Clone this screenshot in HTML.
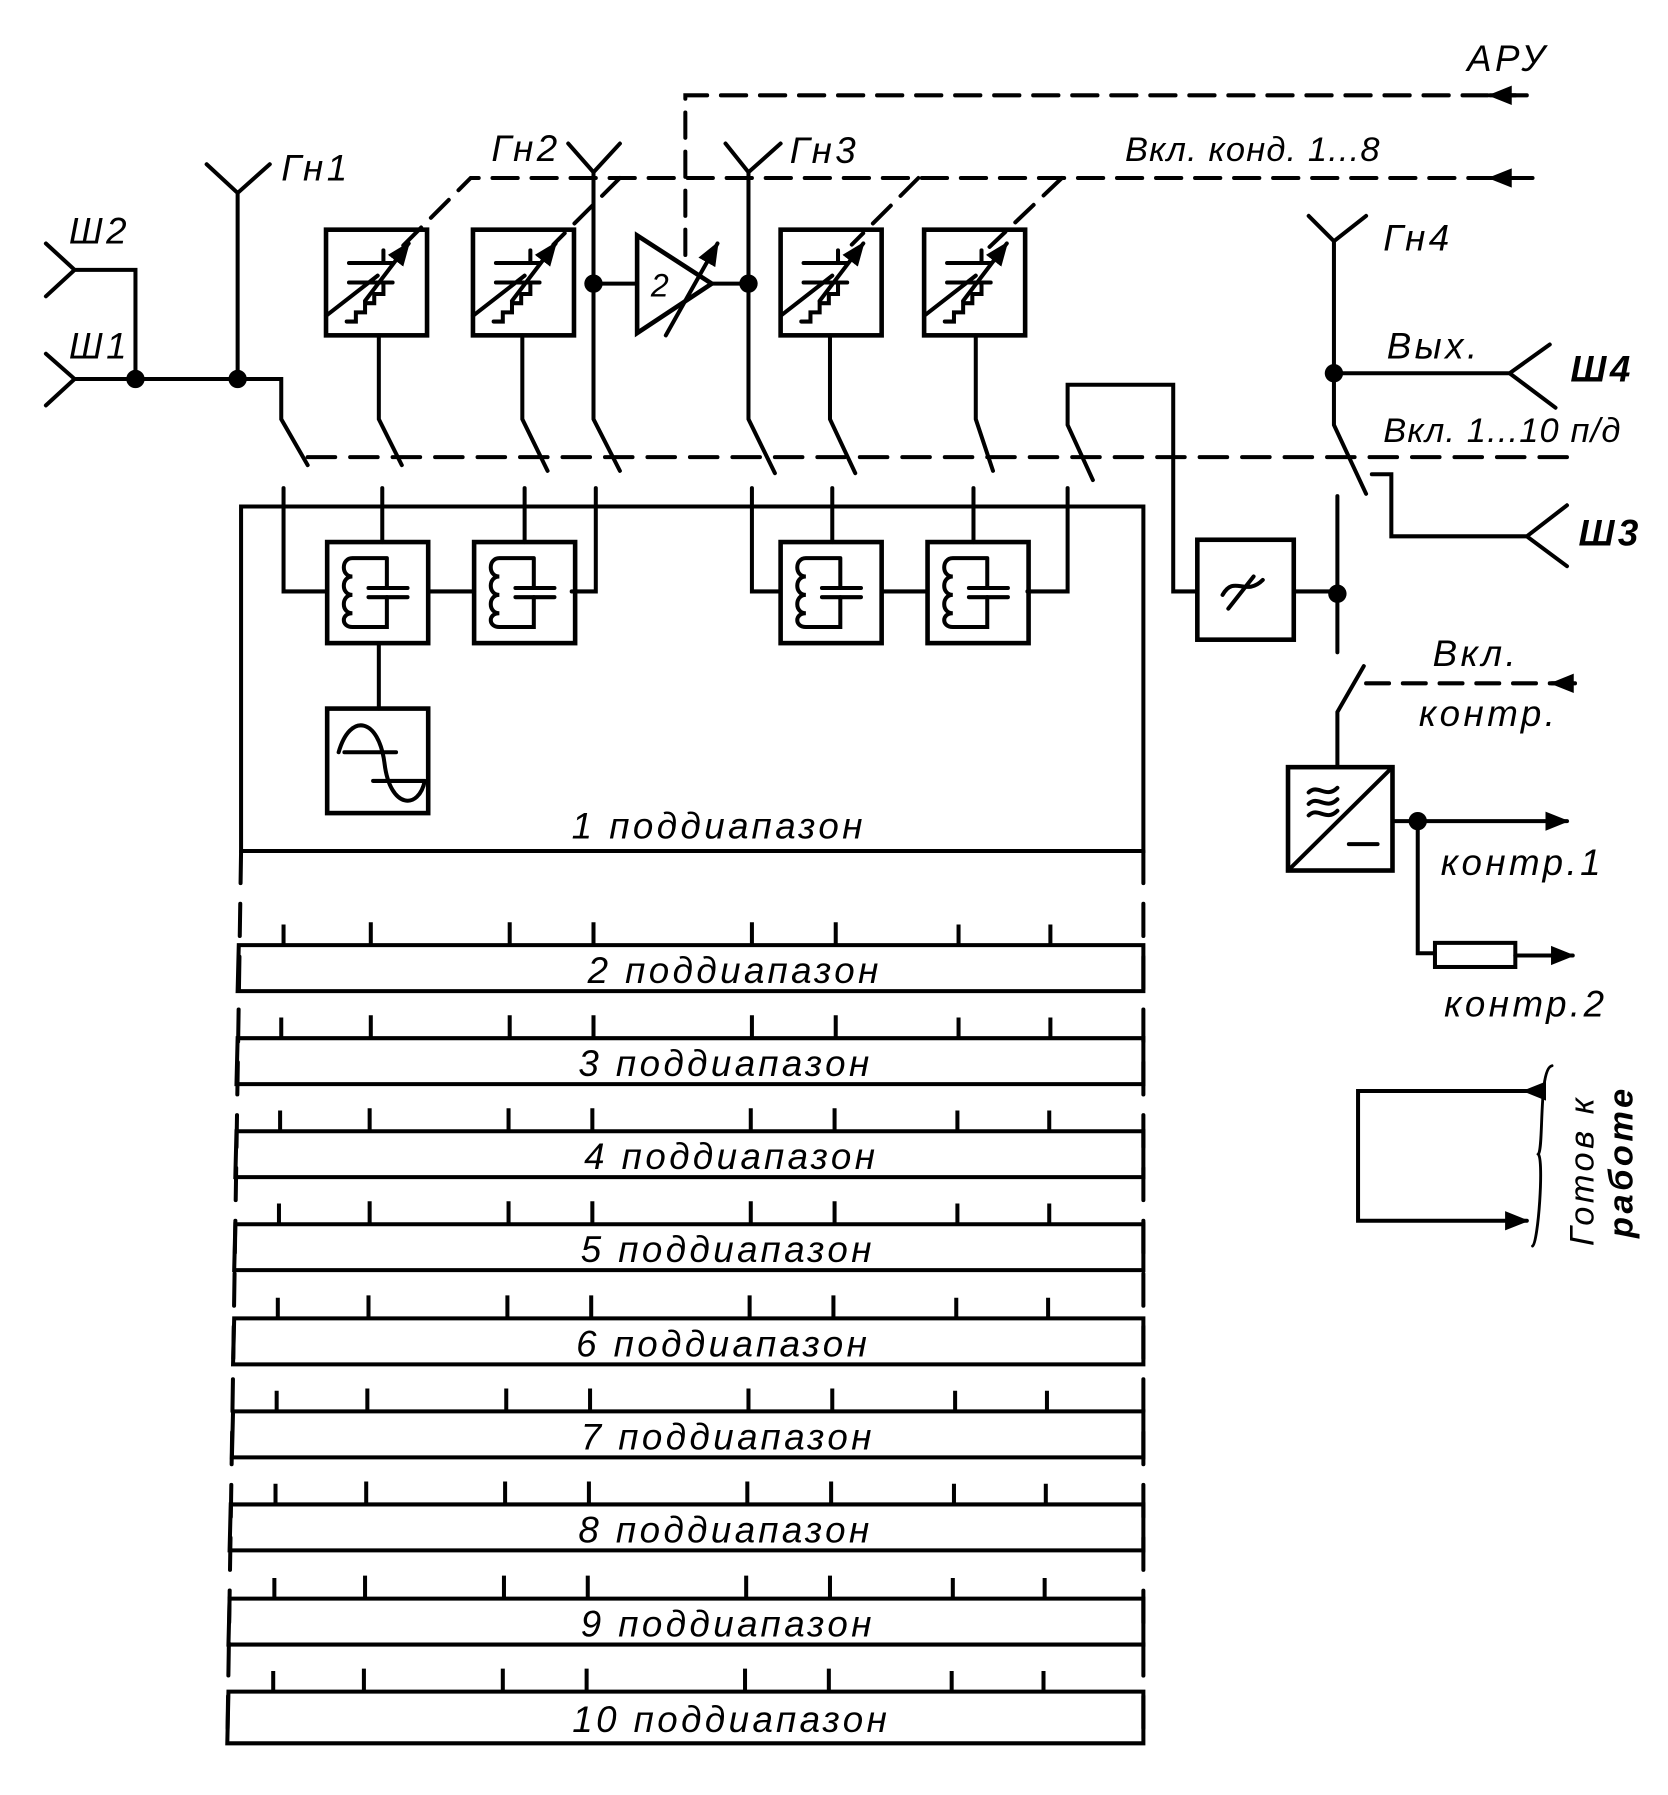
<!DOCTYPE html>
<html><head><meta charset="utf-8"><style>
html,body{margin:0;padding:0;background:#fff;}
svg{display:block;}
text{font-family:"Liberation Sans",sans-serif;font-style:italic;fill:#000;}
</style></head><body>
<svg width="1668" height="1795" viewBox="0 0 1453 1563" preserveAspectRatio="none" xmlns="http://www.w3.org/2000/svg">
<defs>
<marker id="ar" viewBox="0 0 10 10" refX="9" refY="5" markerWidth="6" markerHeight="6" orient="auto-start-reverse"><path d="M0,1 L10,5 L0,9 Z" fill="#000"/></marker>
<g id="vc" fill="none" stroke="#000" stroke-width="3.5">
<rect x="0" y="0" width="88" height="92" stroke-width="4"/>
<path d="M20,29 H58 M20,46 H58 M50,18 V29 M50,46 V56 H42 V64 H34 V72 H26 V80 H18"/>
<path d="M0,75 L45,40"/>
<path d="M34,62 L72,12" marker-end="url(#ar)"/>
</g>
<g id="lc" fill="none" stroke="#000" stroke-width="3.5">
<rect x="0" y="0" width="88" height="88" stroke-width="4"/>
<path d="M52,14 H22 C12,14 12,30 22,30 C12,30 12,46 22,46 C12,46 12,62 22,62 C12,62 12,74 22,74 H52 V48 M52,40 V14"/>
<path d="M36,40 H70 M36,48 H70"/>
</g>
</defs>
<g fill="none" stroke="#000" stroke-width="3.5" stroke-linecap="round">
<!-- АРУ dashed -->
<path d="M1330,83 H597 V230" stroke-dasharray="22,12"/>
<path d="M1320,83 H1298" marker-end="url(#ar)"/>
<!-- Вкл конд -->
<path d="M1335,155 H410 L350,215" stroke-dasharray="22,12"/>
<path d="M1320,155 H1298" marker-end="url(#ar)"/>
<path d="M540,155 L482,213" stroke-dasharray="22,12"/>
<path d="M800,155 L742,213" stroke-dasharray="22,12"/>
<path d="M925,155 L862,215" stroke-dasharray="22,12"/>
<!-- Ш2, Ш1 -->
<path d="M40,212 L65,235 L40,258 M65,235 H118 V330"/>
<path d="M40,308 L65,330 L40,353 M65,330 H245 V365 L268,405"/>
<!-- Гн1 -->
<path d="M207,330 V168 M180,143 L207,168 L235,143"/>
<!-- boxes top -->
<use href="#vc" x="284" y="200"/>
<use href="#vc" x="412" y="200"/>
<use href="#vc" x="680" y="200"/>
<use href="#vc" x="805" y="200"/>
<path d="M330,292 V365 L350,405 M455,292 V365 L477,410"/>
<path d="M517,150 V365 L540,410 M495,125 L517,150 L540,125 M517,247 H555"/>
<path d="M555,205 L620,247 L555,290 Z" stroke-width="4"/>
<path d="M580,292 L625,212" marker-end="url(#ar)"/>
<path d="M620,247 H652 M652,150 V365 L675,412 M632,125 L652,150 L680,125"/>
<path d="M723,292 V365 L745,412 M850,292 V365 L865,410"/>
<path d="M930,370 V335 H1022 V515 H1043 M930,370 L952,418"/>
<!-- Вкл 1..10 dashed -->
<path d="M268,398 H1370" stroke-dasharray="24,13"/>
<!-- Гн4 -->
<path d="M1162,210 V370 L1190,430 M1140,188 L1162,210 L1190,188 M1162,325 H1315 M1350,300 L1315,325 L1355,355"/>
<path d="M1195,413 H1212 V467 H1330 M1365,440 L1330,467 L1365,493"/>
<!-- subrange 1 -->
<path d="M210,441 H996 V741 H210 Z"/>
<path d="M247,425 V515 H285 M333,425 V472 M457,425 V472 M519,425 V515 H498 M655,425 V515 H678 M725,425 V472 M848,425 V472 M930,425 V515 H895"/>
<use href="#lc" x="285" y="472"/>
<use href="#lc" x="413" y="472"/>
<use href="#lc" x="680" y="472"/>
<use href="#lc" x="808" y="472"/>
<path d="M373,515 H413 M768,515 H808 M330,560 V617"/>
<rect x="285" y="617" width="88" height="91" stroke-width="4"/>
<path d="M295,655 C305,620 330,625 335,665 C340,705 365,705 370,680 M300,655 H345 M325,680 H370"/>
<!-- LPF -->
<rect x="1043" y="470" width="84" height="87" stroke-width="4"/>
<path d="M1065,518 C1075,500 1085,520 1100,505 M1070,530 L1092,502"/>
<path d="M1127,515 H1165 M1165,432 V568"/>
<!-- контр -->
<path d="M1165,668 V620 L1188,580"/>
<path d="M1190,595 H1380" stroke-dasharray="20,12"/>
<path d="M1372,595 H1352" marker-end="url(#ar)"/>
<rect x="1122" y="668" width="91" height="90" stroke-width="4"/>
<path d="M1122,758 L1213,668 M1140,690 C1148,682 1155,696 1165,686 M1140,700 C1148,692 1155,706 1165,696 M1140,710 C1148,702 1155,716 1165,706 M1175,735 H1200"/>
<path d="M1213,715 H1365" marker-end="url(#ar)"/>
<path d="M1235,715 V830 H1250 M1320,832 H1370" marker-end="url(#ar)"/>
<rect x="1250" y="821" width="70" height="21"/>
<!-- готов -->
<path d="M1335,950 H1183 V1063 H1330" marker-end="url(#ar)"/>
<path d="M1338,950 h-10" marker-end="url(#ar)"/>
<path d="M1352,928 C1340,930 1345,1000 1340,1005 C1345,1010 1340,1082 1335,1085" stroke-width="2.5"/>
<!-- sub 1 side dashed -->
<path d="M210,741 L198,1520 M996,741 V1520" stroke-dasharray="28,18"/>
</g>
<g fill="#000">
<circle cx="118" cy="330" r="8"/><circle cx="207" cy="330" r="8"/>
<circle cx="517" cy="247" r="8"/><circle cx="652" cy="247" r="8"/>
<circle cx="1162" cy="325" r="8"/><circle cx="1165" cy="517" r="8"/>
<circle cx="1235" cy="715" r="8"/>
</g>
<g fill="none" stroke="#000" stroke-width="3.5">
<path d="M208,823 H996 V863 H207 Z M247,823 V805 M323,823 V803 M444,823 V803 M517,823 V803 M655,823 V803 M728,823 V803 M835,823 V805 M915,823 V805"/>
<path d="M207,904 H996 V944 H206 Z M245,904 V886 M323,904 V884 M444,904 V884 M517,904 V884 M655,904 V884 M728,904 V884 M835,904 V886 M915,904 V886"/>
<path d="M206,985 H996 V1025 H205 Z M244,985 V967 M322,985 V965 M443,985 V965 M516,985 V965 M654,985 V965 M727,985 V965 M834,985 V967 M914,985 V967"/>
<path d="M205,1066 H996 V1106 H204 Z M243,1066 V1048 M322,1066 V1046 M443,1066 V1046 M516,1066 V1046 M654,1066 V1046 M727,1066 V1046 M834,1066 V1048 M914,1066 V1048"/>
<path d="M204,1148 H996 V1188 H203 Z M242,1148 V1130 M321,1148 V1128 M442,1148 V1128 M515,1148 V1128 M653,1148 V1128 M726,1148 V1128 M833,1148 V1130 M913,1148 V1130"/>
<path d="M203,1229 H996 V1269 H202 Z M241,1229 V1211 M320,1229 V1209 M441,1229 V1209 M514,1229 V1209 M652,1229 V1209 M725,1229 V1209 M832,1229 V1211 M912,1229 V1211"/>
<path d="M201,1310 H996 V1350 H200 Z M240,1310 V1292 M319,1310 V1290 M440,1310 V1290 M513,1310 V1290 M651,1310 V1290 M724,1310 V1290 M831,1310 V1292 M911,1310 V1292"/>
<path d="M200,1392 H996 V1432 H199 Z M239,1392 V1374 M318,1392 V1372 M439,1392 V1372 M512,1392 V1372 M650,1392 V1372 M723,1392 V1372 M830,1392 V1374 M910,1392 V1374"/>
<path d="M199,1473 H996 V1518 H198 Z M238,1473 V1455 M317,1473 V1453 M438,1473 V1453 M511,1473 V1453 M649,1473 V1453 M722,1473 V1453 M829,1473 V1455 M909,1473 V1455"/>
</g>
<g font-size="32" letter-spacing="3">
<text x="1278" y="62">АРУ</text>
<text x="980" y="140" font-size="30" letter-spacing="1">Вкл. конд. 1...8</text>
<text x="245" y="157">Гн1</text>
<text x="428" y="140">Гн2</text>
<text x="688" y="142">Гн3</text>
<text x="1205" y="218">Гн4</text>
<text x="60" y="212">Ш2</text>
<text x="60" y="312">Ш1</text>
<text x="1208" y="312">Вых.</text>
<text x="1368" y="332" font-weight="bold">Ш4</text>
<text x="1205" y="385" font-size="30" letter-spacing="1">Вкл. 1...10 п/д</text>
<text x="1375" y="475" font-weight="bold">Ш3</text>
<text x="567" y="258" font-style="normal" font-size="28">2</text>
<text x="1248" y="580">Вкл.</text>
<text x="1236" y="632">контр.</text>
<text x="1255" y="762">контр.1</text>
<text x="1258" y="885">контр.2</text>
<text x="498" y="730">1 поддиапазон</text>
<g text-anchor="middle">
<text x="640" y="856">2 поддиапазон</text>
<text x="632" y="937">3 поддиапазон</text>
<text x="637" y="1018">4 поддиапазон</text>
<text x="634" y="1099">5 поддиапазон</text>
<text x="630" y="1181">6 поддиапазон</text>
<text x="634" y="1262">7 поддиапазон</text>
<text x="632" y="1343">8 поддиапазон</text>
<text x="634" y="1425">9 поддиапазон</text>
<text x="637" y="1508">10 поддиапазон</text>
</g>
<text transform="translate(1388,1085) rotate(-90)" font-size="30">Готов к</text>
<text transform="translate(1422,1078) rotate(-90)" font-size="30" font-weight="bold">работе</text>
</g>
</svg>
</body></html>
